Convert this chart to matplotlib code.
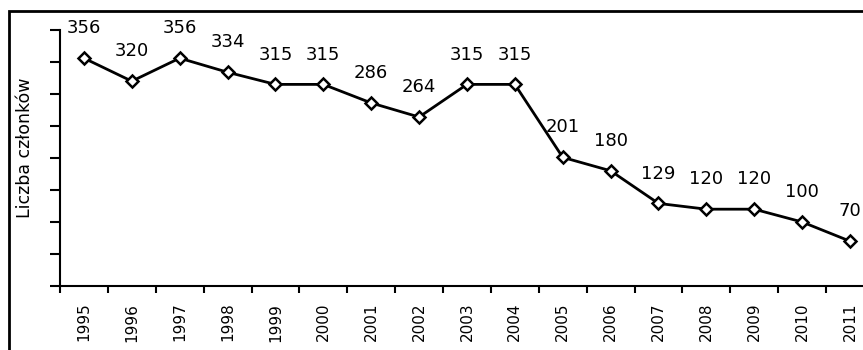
import matplotlib
matplotlib.use("Agg")
import matplotlib.pyplot as plt
from matplotlib.patches import Rectangle

years = ["1995", "1996", "1997", "1998", "1999", "2000", "2001", "2002", "2003",
         "2004", "2005", "2006", "2007", "2008", "2009", "2010", "2011"]
members = [356, 320, 356, 334, 315, 315, 286, 264, 315, 315, 201, 180, 129, 120, 120, 100, 70]

plt.rcParams["font.family"] = ["DejaVu Sans"]

fig = plt.figure(figsize=(8.63, 3.5), dpi=100)
ax = fig.add_axes([0.0695, 0.1829, 0.9432, 0.7314])

x = list(range(len(years)))
ax.plot(x, members, color="black", lw=2, marker="D", ms=6.5,
        mfc="white", mec="black", mew=1.8, clip_on=False, zorder=3)

for xi, v in zip(x, members):
    ax.annotate(str(v), (xi, v), xytext=(0, 21.5), textcoords="offset points",
                ha="center", va="center", fontsize=13)

ax.set_xlim(-0.5, len(years) - 0.5)
ax.set_ylim(0, 400)
ax.set_yticks(range(0, 401, 50))
ax.set_yticklabels([])
ax.set_xticks(x)
ax.set_xticklabels(years, rotation=90, fontsize=11)
ax.set_xticks([i - 0.5 for i in range(len(years) + 1)], minor=True)
ax.tick_params(axis="x", which="major", length=0, pad=12)
ax.tick_params(axis="x", which="minor", length=5, width=1.5, direction="out")
ax.tick_params(axis="y", length=7, width=1.5, direction="out")

for side in ("top", "right"):
    ax.spines[side].set_visible(False)
for side in ("left", "bottom"):
    ax.spines[side].set_linewidth(1.5)

ax.set_ylabel("Liczba członków", fontsize=12.5)
ax.yaxis.set_label_coords(-0.032, 0.54)

# outer chart frame
fig.patches.append(Rectangle((0.0104, -0.1), 1.2, 1.0686, transform=fig.transFigure,
                             fill=False, ec="black", lw=2, clip_on=False))

fig.savefig("out.png", dpi=100)
